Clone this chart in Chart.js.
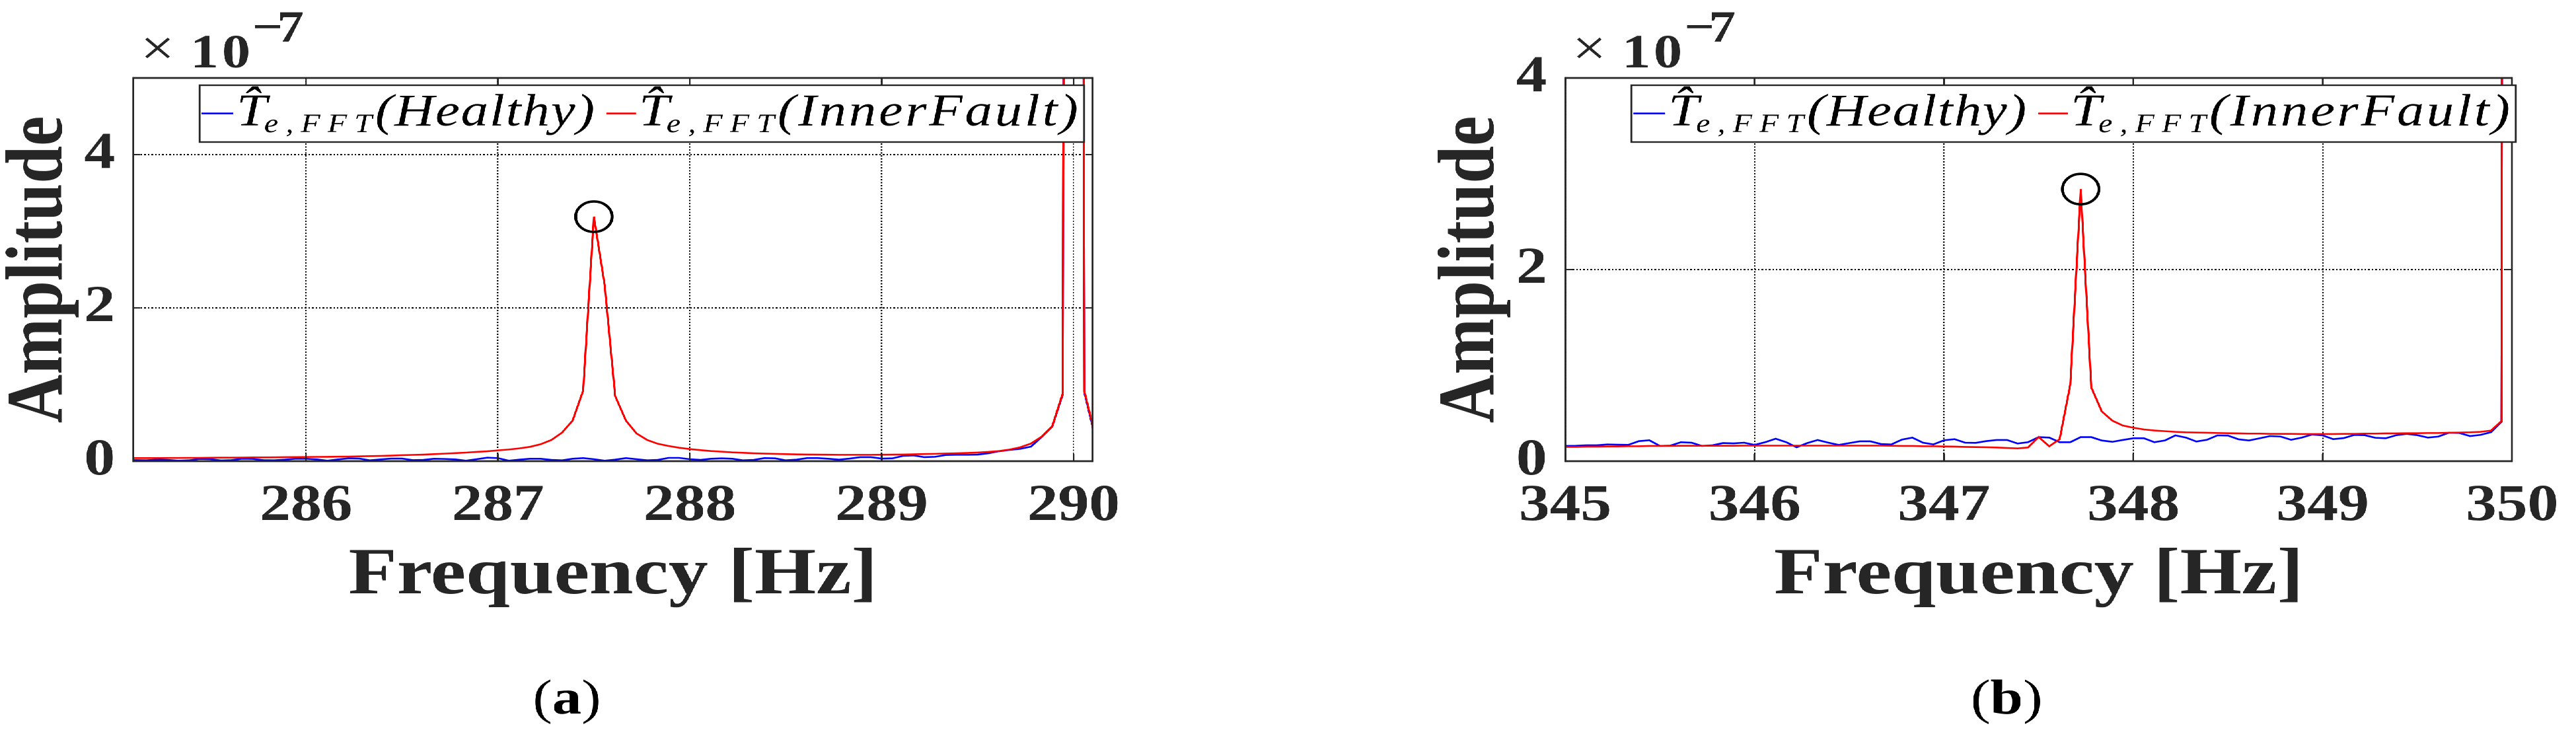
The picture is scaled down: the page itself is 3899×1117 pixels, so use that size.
<!DOCTYPE html>
<html>
<head>
<meta charset="utf-8">
<script src="https://cdn.jsdelivr.net/npm/chart.js@4.4.0/dist/chart.umd.min.js"></script>
<style>
html,body{margin:0;padding:0;background:#fff;overflow:hidden;width:3899px;height:1117px;}
#stage{position:absolute;left:0;top:0;width:3249.17px;height:1117px;transform:scaleX(1.2);transform-origin:0 0;}
.panel{position:absolute;top:0;height:1117px;}
</style>
</head>
<body>
<div id="stage">
  <div class="panel" style="left:0px;width:1440px"><canvas id="ca" width="1440" height="1117"></canvas></div>
  <div class="panel" style="left:1805.83px;width:1443px"><canvas id="cb" width="1443" height="1117"></canvas></div>
</div>
<script>
// ---------------- DATA (amplitudes in units of 1e-7) ----------------
const freqA = [
  285.056,285.111,285.167,285.222,285.278,285.333,285.389,285.444,285.5,285.556,285.611,285.667,285.722,285.778,285.833,285.889,285.944,
  286,286.056,286.111,286.167,286.222,286.278,286.333,286.389,286.444,286.5,286.556,286.611,286.667,286.722,286.778,286.833,286.889,286.944,
  287,287.056,287.111,287.167,287.222,287.278,287.333,287.389,287.444,287.5,287.556,287.611,287.667,287.722,287.778,287.833,287.889,287.944,
  288,288.056,288.111,288.167,288.222,288.278,288.333,288.389,288.444,288.5,288.556,288.611,288.667,288.722,288.778,288.833,288.889,288.944,
  289,289.056,289.111,289.167,289.222,289.278,289.333,289.389,289.444,289.5,289.556,289.611,289.667,289.722,289.778,289.833,289.889,289.944,
  290,290.056,290.111
];
const healthyA = [
  0.014,0.014,0.011,0.020,0.017,0.006,0.011,0.029,0.026,0.009,0.014,0.032,0.029,0.014,0.011,0.020,0.032,
  0.032,0.023,0.006,0.023,0.037,0.034,0.011,0.023,0.034,0.034,0.014,0.017,0.032,0.029,0.023,0.006,0.026,0.046,
  0.040,0.006,0.020,0.032,0.032,0.017,0.011,0.032,0.040,0.026,0.006,0.020,0.040,0.026,0.011,0.017,0.043,0.043,
  0.026,0.017,0.032,0.037,0.032,0.011,0.017,0.040,0.037,0.011,0.020,0.040,0.040,0.032,0.020,0.034,0.052,0.052,
  0.034,0.037,0.069,0.075,0.052,0.057,0.080,0.083,0.083,0.086,0.103,0.129,0.147,0.161,0.190,0.313,0.451,0.874,
  60,0.90,0.33
];
const faultA = [
  0.040,0.040,0.040,0.040,0.042,0.042,0.043,0.043,0.045,0.046,0.046,0.047,0.049,0.049,0.050,0.052,0.053,
  0.055,0.056,0.057,0.059,0.060,0.063,0.066,0.069,0.073,0.078,0.082,0.086,0.092,0.098,0.105,0.112,0.121,0.129,
  0.141,0.152,0.167,0.187,0.221,0.276,0.371,0.529,0.92,3.19,2.30,0.85,0.529,0.362,0.276,0.227,0.198,0.175,
  0.158,0.144,0.132,0.124,0.115,0.109,0.103,0.099,0.095,0.092,0.089,0.087,0.086,0.085,0.083,0.083,0.083,0.083,
  0.085,0.086,0.087,0.090,0.093,0.096,0.100,0.103,0.107,0.113,0.121,0.132,0.152,0.181,0.230,0.319,0.457,0.888,
  60,0.917,0.35
];
const freqB = [
  345,345.056,345.111,345.167,345.222,345.278,345.333,345.389,345.444,345.5,345.556,345.611,345.667,345.722,345.778,345.833,345.889,345.944,
  346,346.056,346.111,346.167,346.222,346.278,346.333,346.389,346.444,346.5,346.556,346.611,346.667,346.722,346.778,346.833,346.889,346.944,
  347,347.056,347.111,347.167,347.222,347.278,347.333,347.389,347.444,347.5,347.556,347.611,347.667,347.722,347.778,347.833,347.889,347.944,
  348,348.056,348.111,348.167,348.222,348.278,348.333,348.389,348.444,348.5,348.556,348.611,348.667,348.722,348.778,348.833,348.889,348.944,
  349,349.056,349.111,349.167,349.222,349.278,349.333,349.389,349.444,349.5,349.556,349.611,349.667,349.722,349.778,349.833,349.889,349.944,
  350
];
const healthyB = [
  0.159,0.161,0.166,0.166,0.175,0.172,0.170,0.209,0.218,0.159,0.163,0.198,0.193,0.159,0.166,0.189,0.186,0.193,
  0.170,0.198,0.234,0.198,0.145,0.189,0.221,0.193,0.170,0.189,0.207,0.207,0.179,0.175,0.225,0.246,0.193,0.175,
  0.218,0.230,0.193,0.191,0.209,0.221,0.221,0.184,0.198,0.251,0.246,0.198,0.198,0.251,0.251,0.216,0.202,0.221,
  0.239,0.239,0.198,0.216,0.269,0.246,0.205,0.223,0.269,0.267,0.228,0.216,0.239,0.262,0.257,0.223,0.246,0.278,
  0.269,0.230,0.241,0.274,0.271,0.244,0.239,0.271,0.285,0.271,0.246,0.257,0.297,0.294,0.262,0.274,0.303,0.411,
  60
];
const faultB = [
  0.149,0.149,0.152,0.152,0.154,0.154,0.156,0.156,0.159,0.159,0.159,0.161,0.161,0.161,0.161,0.161,0.161,0.162,
  0.162,0.162,0.162,0.162,0.162,0.162,0.162,0.162,0.162,0.162,0.162,0.162,0.162,0.161,0.159,0.159,0.156,0.156,
  0.154,0.152,0.149,0.147,0.145,0.143,0.138,0.133,0.143,0.252,0.155,0.230,0.80,2.84,0.77,0.52,0.423,0.372,
  0.349,0.331,0.320,0.313,0.306,0.301,0.299,0.297,0.294,0.292,0.290,0.288,0.288,0.285,0.285,0.285,0.283,0.283,
  0.283,0.283,0.285,0.285,0.288,0.288,0.290,0.290,0.292,0.292,0.294,0.294,0.297,0.299,0.301,0.306,0.320,0.418,
  60
];
const xRangeA = [285.1, 290.1];
const xRangeB = [345, 350];
const yRangeA = [0, 5];
const yRangeB = [0, 4];
const xTicksA = [286, 287, 288, 289, 290];
const xTicksB = [345, 346, 347, 348, 349, 350];
const yTicksA = [0, 2, 4];
const yTicksB = [0, 2, 4];
const circleFreqA = [287.5];
const circleFreqB = [347.722];
const seriesNames = ['Healthy', 'InnerFault'];
const seriesColors = ['#0000ff', '#ff0000'];
const panelLabels = ['a', 'b'];
const xTitle = 'Frequency [Hz]';
const yTitle = 'Amplitude';
const expBase = '10';
const expPower = '\u22127';

// ---------------- RENDERING ----------------
const SERIF = '"Liberation Serif", "Times New Roman", serif';
const AX = '#262626';

function toXY(xs, ys) { return xs.map((x, i) => ({x: x, y: ys[i]})); }

function fitText(ctx, text, x0, x1, y) {
  const has = ('letterSpacing' in ctx);
  if (has) ctx.letterSpacing = '0px';
  const w = ctx.measureText(text).width;
  const n = Array.from(text).length;
  const ls = n > 1 ? (x1 - x0 - w) / (n - 1) : 0;
  if (has) ctx.letterSpacing = ls.toFixed(2) + 'px';
  ctx.textAlign = 'left';
  ctx.fillText(text, x0, y);
  if (has) ctx.letterSpacing = '0px';
}

const LEG = {
  dx: 83.3, dy: 11, w: 1115.8, h: 86, lineY: 42.7, base: 61, subBase: 71, hatBase: 49.5, hatDx: 17.5,
  items: [
    {s0: 2.5, s1: 42.5, t: 46.7, sub0: 81.7, sub1: 217.5, p0: 221.7, p1: 498.3},
    {s0: 513.3, s1: 550.8, t: 554.2, sub0: 589.2, sub1: 725, p0: 729.2, p1: 1108.3}
  ]
};

function decorPlugin(labelText, labelCenter) {
  return {
    id: 'decor',
    afterDraw(chart) {
      const ctx = chart.ctx, ca = chart.chartArea;
      const xs = chart.scales.x, ys = chart.scales.y;
      ctx.save();
      // axes box
      ctx.strokeStyle = AX;
      ctx.lineWidth = 2.8;
      ctx.beginPath();
      ctx.moveTo(ca.left, ca.top); ctx.lineTo(ca.right, ca.top);
      ctx.moveTo(ca.left, ca.bottom); ctx.lineTo(ca.right, ca.bottom);
      ctx.stroke();
      ctx.lineWidth = 2.3;
      ctx.beginPath();
      ctx.moveTo(ca.left, ca.top - 1.4); ctx.lineTo(ca.left, ca.bottom + 1.4);
      ctx.moveTo(ca.right, ca.top - 1.4); ctx.lineTo(ca.right, ca.bottom + 1.4);
      ctx.stroke();
      // inward tick marks
      ctx.lineWidth = 2;
      ctx.beginPath();
      xs.ticks.forEach(t => {
        const px = xs.getPixelForValue(t.value);
        ctx.moveTo(px, ca.bottom); ctx.lineTo(px, ca.bottom - 11);
        ctx.moveTo(px, ca.top); ctx.lineTo(px, ca.top + 11);
      });
      ys.ticks.forEach(t => {
        const py = ys.getPixelForValue(t.value);
        ctx.moveTo(ca.left, py); ctx.lineTo(ca.left + 9, py);
        ctx.moveTo(ca.right, py); ctx.lineTo(ca.right - 9, py);
      });
      ctx.stroke();

      // legend
      const lx = ca.left + LEG.dx, ly = ca.top + LEG.dy;
      ctx.fillStyle = '#fff';
      ctx.fillRect(lx, ly, LEG.w, LEG.h);
      ctx.strokeStyle = AX;
      ctx.lineWidth = 2.4;
      ctx.strokeRect(lx, ly, LEG.w, LEG.h);
      ctx.textBaseline = 'alphabetic';
      LEG.items.forEach((it, i) => {
        ctx.strokeStyle = seriesColors[i];
        ctx.lineWidth = 2.6;
        ctx.beginPath();
        ctx.moveTo(lx + it.s0, ly + LEG.lineY);
        ctx.lineTo(lx + it.s1, ly + LEG.lineY);
        ctx.stroke();
        ctx.fillStyle = '#000';
        ctx.font = 'italic 69px ' + SERIF;
        ctx.textAlign = 'left';
        ctx.fillText('T', lx + it.t, ly + LEG.base);
        ctx.textAlign = 'center';
        ctx.fillText('\u02C6', lx + it.t + LEG.hatDx, ly + LEG.hatBase);
        ctx.font = 'italic 40px ' + SERIF;
        fitText(ctx, 'e,FFT', lx + it.sub0, lx + it.sub1, ly + LEG.subBase);
        ctx.font = 'italic 69px ' + SERIF;
        fitText(ctx, '(' + seriesNames[i] + ')', lx + it.p0, lx + it.p1, ly + LEG.base);
      });

      // exponent label  x10^-7
      ctx.fillStyle = AX;
      ctx.textAlign = 'left';
      ctx.font = '76px ' + SERIF;
      ctx.fillText('\u00D7', ca.left + 9, ca.top - 20);
      ctx.font = 'bold 72px ' + SERIF;
      fitText(ctx, expBase, ca.left + 71.7, ca.left + 147.5, ca.top - 16);
      ctx.font = 'bold 68px ' + SERIF;
      fitText(ctx, expPower, ca.left + 150, ca.left + 215, ca.top - 55);

      // panel label (a)/(b)
      ctx.fillStyle = '#000';
      const reg = '74px ' + SERIF, bold = 'bold 74px ' + SERIF;
      ctx.font = reg; const wl = ctx.measureText('(').width, wr = ctx.measureText(')').width;
      ctx.font = bold; const wm = ctx.measureText(labelText).width;
      let x = labelCenter - (wl + wm + wr) / 2;
      const by = 1080;
      ctx.textAlign = 'left';
      ctx.font = reg; ctx.fillText('(', x, by); x += wl;
      ctx.font = bold; ctx.fillText(labelText, x, by); x += wm;
      ctx.font = reg; ctx.fillText(')', x, by);
      ctx.restore();
    }
  };
}

function makePanel(canvasId, freq, healthy, fault, xRange, yRange, xTicks, yTicks, circleFreq, labelText, padRight, labelCenter) {
  const circleData = circleFreq.map(cf => {
    const idx = freq.findIndex(f => Math.abs(f - cf) < 0.01);
    return {x: freq[idx], y: fault[idx]};
  });
  return new Chart(document.getElementById(canvasId), {
    type: 'line',
    data: {
      datasets: [
        {label: seriesNames[0], data: toXY(freq, healthy), borderColor: seriesColors[0], backgroundColor: seriesColors[0],
         borderWidth: 2.6, pointRadius: 0, tension: 0, fill: false, order: 2},
        {label: seriesNames[1], data: toXY(freq, fault), borderColor: seriesColors[1], backgroundColor: seriesColors[1],
         borderWidth: 2.6, pointRadius: 0, tension: 0, fill: false, order: 1},
        {label: 'peak', data: circleData, showLine: false, pointRadius: 23, pointHoverRadius: 23, pointStyle: 'circle',
         pointBorderColor: '#000', pointBorderWidth: 3.6, pointBackgroundColor: 'rgba(0,0,0,0)', order: 0}
      ]
    },
    options: {
      responsive: false,
      animation: false,
      devicePixelRatio: 2,
      events: [],
      layout: {padding: {left: 0, top: 118, right: padRight, bottom: 195}},
      plugins: {legend: {display: false}, tooltip: {enabled: false}, title: {display: false}},
      scales: {
        x: {
          type: 'linear', min: xRange[0], max: xRange[1],
          afterBuildTicks: s => { s.ticks = xTicks.map(v => ({value: v})); },
          afterFit: s => { s.height = 224; },
          grid: {color: '#000', lineWidth: 1.7, drawTicks: false},
          border: {display: false, dash: [2, 2.5]},
          ticks: {font: {family: SERIF, weight: 'bold', size: 78}, color: AX, padding: 22, autoSkip: false, maxRotation: 0},
          title: {display: true, text: xTitle, color: AX, padding: 0, font: {family: SERIF, weight: 'bold', size: 100, lineHeight: 1}}
        },
        y: {
          type: 'linear', min: yRange[0], max: yRange[1],
          afterBuildTicks: s => { s.ticks = yTicks.map(v => ({value: v})); },
          afterFit: s => { s.width = 168.3; },
          grid: {color: '#000', lineWidth: 2, drawTicks: false},
          border: {display: false, dash: [2, 2.5]},
          ticks: {font: {family: SERIF, weight: 'bold', size: 78}, color: AX, padding: 23, autoSkip: false},
          title: {display: true, text: yTitle, color: AX, padding: 0, font: {family: SERIF, weight: 'bold', size: 102, lineHeight: 1}}
        }
      }
    },
    plugins: [decorPlugin(labelText, labelCenter)]
  });
}

makePanel('ca', freqA, healthyA, faultA, xRangeA, yRangeA, xTicksA, yTicksA, circleFreqA, panelLabels[0], 61.7, 715);
makePanel('cb', freqB, healthyB, faultB, xRangeB, yRangeB, xTicksB, yTicksB, circleFreqB, panelLabels[1], 66.3, 725);
</script>
</body>
</html>
